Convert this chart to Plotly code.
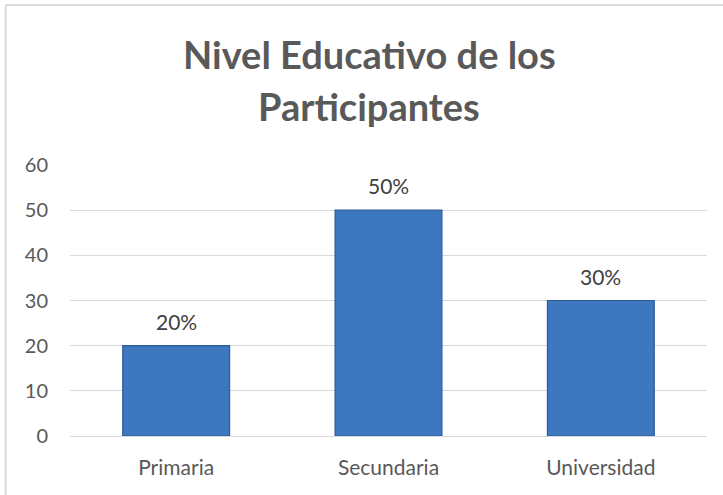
import plotly.graph_objects as go

categories = ["Primaria", "Secundaria", "Universidad"]
values = [20, 50, 30]
labels = ["20%", "50%", "30%"]
y_ticks = [0, 10, 20, 30, 40, 50, 60]

title_line1 = "Nivel Educativo de los"
title_line2 = "Participantes"

FONT = "Lato, 'Open Sans', sans-serif"

fig = go.Figure()
fig.add_trace(go.Bar(
    x=categories,
    y=values,
    marker=dict(color="#3C77C0", line=dict(color="#2B5A95", width=1.2)),
    hoverinfo="skip",
))

for c, v, t in zip(categories, values, labels):
    fig.add_annotation(x=c, y=v, text=t, showarrow=False, yanchor="bottom",
                       yshift=10, font=dict(family=FONT, size=21, color="#404040"))

fig.add_annotation(xref="paper", yref="paper", x=0.47, y=1.0, yshift=111,
                   text=title_line1, showarrow=False, xanchor="center", yanchor="middle",
                   font=dict(family=FONT, size=38, color="#595959", weight="bold"))
fig.add_annotation(xref="paper", yref="paper", x=0.47, y=1.0, yshift=59,
                   text=title_line2, showarrow=False, xanchor="center", yanchor="middle",
                   font=dict(family=FONT, size=38, color="#595959", weight="bold"))

# chart frame (left and top border)
fig.add_shape(type="line", xref="paper", yref="paper", x0=-0.101, x1=-0.101, y0=-1, y1=1.59,
              line=dict(color="#D9D9D9", width=2))
fig.add_shape(type="line", xref="paper", yref="paper", x0=-0.101, x1=1.1, y0=1.59, y1=1.59,
              line=dict(color="#D9D9D9", width=2))

fig.update_layout(
    width=723, height=495,
    margin=dict(l=70, r=16, t=165, b=59),
    paper_bgcolor="white", plot_bgcolor="white",
    showlegend=False,
    bargap=0.497,
    font=dict(family=FONT, size=20, color="#595959"),
)
fig.update_yaxes(range=[0, 60], tickvals=y_ticks, showgrid=True, gridcolor="#D9D9D9",
                 gridwidth=1, zeroline=False, showline=False, ticks="",
                 ticklabelstandoff=21, tickfont=dict(family=FONT, size=20, color="#595959"))
fig.update_xaxes(showline=True, linecolor="#D9D9D9", linewidth=1, ticks="",
                 ticklabelstandoff=13, tickfont=dict(family=FONT, size=21, color="#595959"))

fig.write_html("out.html", config={"displayModeBar": False},
               post_script="document.body.style.margin='0';document.body.style.overflow='hidden';")
